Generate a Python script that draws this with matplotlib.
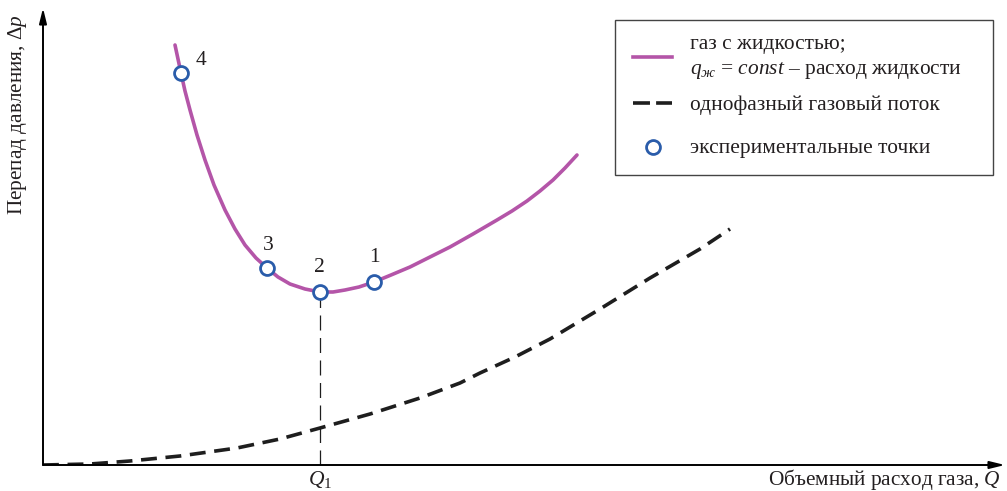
import matplotlib.pyplot as plt
from matplotlib.patches import Rectangle

plt.rcParams['font.family'] = ['Liberation Serif', 'DejaVu Serif']
plt.rcParams['mathtext.fontset'] = 'custom'
plt.rcParams['mathtext.rm'] = 'Liberation Serif'
plt.rcParams['mathtext.it'] = 'Liberation Serif:italic'
plt.rcParams['text.color'] = '#231f20'

# кривая "газ с жидкостью" (условные единицы)
gl_x = [132, 135, 138, 142, 147, 154, 162, 171, 182, 192, 202, 213, 224, 235, 247,
        262, 277, 290, 302, 316, 331, 348, 367, 387, 407, 430, 454, 469, 484, 497, 510, 522, 534]
gl_y = [420, 406, 392, 374, 355, 330, 305, 280, 255, 236, 220, 207, 197, 188, 181,
        176, 173, 173, 175, 178, 183, 190, 198, 208, 218, 231, 245, 254, 264, 274, 285, 297, 310]

# однофазный газовый поток
g_x = [0, 47, 87, 137, 194, 237, 277, 327, 377, 417, 437, 472, 507, 557, 607, 657, 687]
g_y = [0, 1, 4, 9, 17, 26, 37, 51, 67, 82, 92, 108, 126, 156, 187, 216, 236]

# экспериментальные точки
pt_x = [331, 277, 224, 138]
pt_y = [183, 173, 197, 392]
pt_lbl = ['1', '2', '3', '4']

q1 = 277

legend_labels = [
    'газ с жидкостью;',
    r'$q_{ж}$ = $\mathit{const}$ – расход жидкости',
    'однофазный газовый поток',
    'экспериментальные точки',
]

fig = plt.figure(figsize=(10.07, 4.91), dpi=100)
ax = fig.add_axes([43 / 1007, 26 / 491, 960 / 1007, 455 / 491])
ax.set_xlim(0, 960)
ax.set_ylim(0, 455)
ax.axis('off')

purple = '#b455a8'
blue = '#2a5caa'
dark = '#1e1e1e'

ax.plot(gl_x, gl_y, color=purple, lw=2.6, solid_capstyle='round', zorder=3)
ax.plot(g_x, g_y, color=dark, lw=2.6, dashes=(4.4, 2.4), zorder=3)
ax.plot([q1, q1], [0, 173], color=dark, lw=0.9, dashes=(12, 6), zorder=2)
ax.plot(pt_x, pt_y, 'o', ms=10, mfc='white', mec=blue, mew=2, zorder=4)

offs = {'1': (0, 25), '2': (-1, 24), '3': (1, 23), '4': (20, 13)}
for x, y, t in zip(pt_x, pt_y, pt_lbl):
    dx, dy = offs[t]
    ax.text(x + dx, y + dy, t, fontsize=15.5, ha='center', va='center')

# оси со стрелками
arrow = dict(arrowstyle='-|>,head_length=0.9,head_width=0.22', color='black', lw=1.4,
             shrinkA=0, shrinkB=0)
ax.annotate('', xy=(962, 0), xytext=(0, 0), arrowprops=arrow, annotation_clip=False)
ax.annotate('', xy=(0, 457), xytext=(0, 0), arrowprops=arrow, annotation_clip=False)

ax.text(q1, -15, r'$Q_{1}$', fontsize=15.5, ha='center', va='center')
ax.text(958, -14, r'Объемный расход газа, $Q$', fontsize=15.3, ha='right', va='center')
fig.text(18 / 1007, 1 - 14 / 491, r'Перепад давления, $\Delta p$', fontsize=15.3,
         rotation=90, ha='center', va='top')

# легенда (в пикселях рисунка)
lg = fig.add_axes([0, 0, 1, 1], zorder=5)
lg.set_xlim(0, 1007)
lg.set_ylim(491, 0)
lg.axis('off')
lg.add_patch(Rectangle((615, 20), 378, 155, fill=False, ec='#444444', lw=1.0))
lg.plot([633, 672], [57, 57], color=purple, lw=2.6)
lg.plot([633, 672], [103, 103], color=dark, lw=2.6, dashes=(4.7, 1.7))
lg.plot([653], [147], 'o', ms=10, mfc='white', mec=blue, mew=2)
for yy, t in zip([44, 70, 105, 149], legend_labels):
    lg.text(690, yy, t, fontsize=15.4, ha='left', va='center')

fig.savefig('out.png', dpi=100)
